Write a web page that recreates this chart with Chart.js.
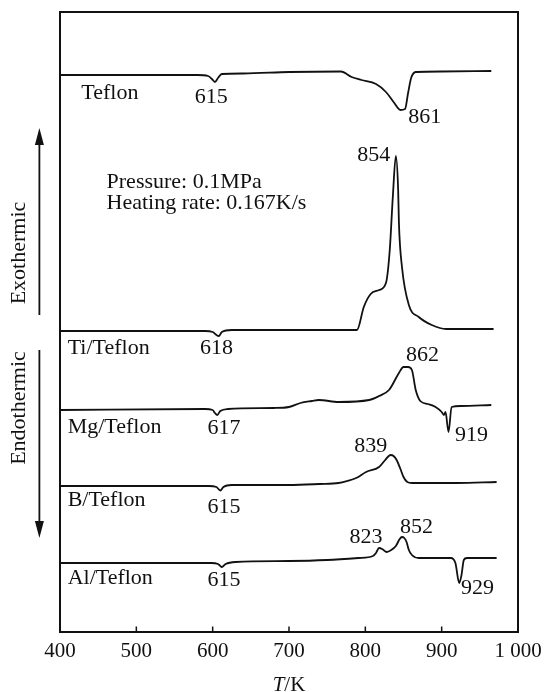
<!DOCTYPE html>
<html>
<head>
<meta charset="utf-8">
<script src="https://cdn.jsdelivr.net/npm/chart.js@4/dist/chart.umd.min.js"></script>
<style>
  html, body { margin: 0; padding: 0; background: #fff; }
</style>
</head>
<body>
<canvas id="myChart" width="544" height="692"></canvas>
<script>
// DTA curves, temperature in K, signal in arbitrary units (curves stacked)
const teflonT = [400, 580, 594, 599, 603, 607, 612, 640, 700, 768, 782, 795, 814, 827, 837, 846, 852, 856, 860, 866, 900, 965];
const teflonY = [557, 557, 556, 553, 550, 554, 558, 558.5, 560, 560.5, 555, 552, 548, 540, 530, 522, 523, 539, 554, 560, 560.5, 561];

const tiT = [400, 590, 600, 605, 608, 612, 625, 700, 789, 798, 807, 818, 827, 832, 836, 840, 843, 844, 848, 857, 870, 887, 906, 968];
const tiY = [301, 301, 300, 297, 296, 300, 302, 302, 302, 325, 338, 342, 349, 382, 435, 476, 442, 409, 365, 327, 315, 307, 303, 303];

const mgT = [400, 590, 600, 603, 606, 610, 620, 680, 700, 715, 730, 739, 765, 805, 818, 831, 844, 850, 856, 861, 866, 872, 882, 892, 900, 903, 905, 909, 913, 925, 965];
const mgY = [222, 223, 222, 219, 217, 221, 223, 224, 225, 229, 231, 232, 230, 232, 236, 242, 259, 265, 265, 262, 242, 231, 228, 225, 220, 217, 220, 200, 225, 226, 227];

const bT = [400, 595, 605, 610, 614, 625, 700, 740, 765, 776, 788, 801, 818, 826, 833, 837, 841, 846, 850, 855, 861, 920, 972];
const bY = [146, 146, 145, 141.5, 145, 147, 147, 148, 149, 151, 154, 160, 165, 172, 177, 176, 172, 163, 155, 150, 149, 149, 150];

const alT = [400, 598, 607, 612, 617, 630, 700, 750, 791, 810, 814, 818, 822, 828, 834, 840, 845, 848, 851, 854, 857, 861, 870, 912, 918, 923, 926, 929, 933, 972];
const alY = [69, 69, 68, 65, 68, 70, 71, 72, 74, 76, 79, 84, 83, 80, 82, 86, 93, 95, 94, 90, 82, 77, 74, 74, 69, 49, 57, 72, 74, 74];

const xTicks = [400, 500, 600, 700, 800, 900, 1000];

// curve names (left aligned)
const nameText = ['Teflon', 'Ti/Teflon', 'Mg/Teflon', 'B/Teflon', 'Al/Teflon'];
const nameT = [428, 410, 410, 410, 410];
const nameY = [539, 284, 205, 132, 54];

// peak temperatures (centered)
const peakText = ['615', '861', '854', '618', '862', '617', '919', '839', '615', '823', '852', '929', '615'];
const peakT = [598, 878, 811, 605, 875, 615, 939, 807, 615, 801, 867, 947, 615];
const peakY = [535, 515, 477, 284, 277, 204, 197, 186, 125, 95, 105, 44, 52];

// test conditions
const noteText = ['Pressure: 0.1MPa', 'Heating rate: 0.167K/s'];
const noteT = [461, 461];
const noteY = [450, 429];

const serif = '"Liberation Serif", "Times New Roman", serif';

function pts(xs, ys) {
  return xs.map((x, i) => ({ x: x, y: ys[i] }));
}

function curve(label, xs, ys) {
  return {
    label: label,
    data: pts(xs, ys),
    borderColor: '#111',
    borderWidth: 1.8,
    pointRadius: 0,
    cubicInterpolationMode: 'monotone',
    fill: false
  };
}

function arrow(ctx, x, y0, y1) {
  const dir = y1 < y0 ? 1 : -1;
  ctx.beginPath();
  ctx.moveTo(x, y0);
  ctx.lineTo(x, y1 + dir * 14);
  ctx.stroke();
  ctx.beginPath();
  ctx.moveTo(x, y1);
  ctx.lineTo(x - 4.5, y1 + dir * 17);
  ctx.lineTo(x + 4.5, y1 + dir * 17);
  ctx.closePath();
  ctx.fill();
}

const decorations = {
  id: 'decorations',
  afterDraw(chart) {
    const ctx = chart.ctx;
    const a = chart.chartArea;
    const xs = chart.scales.x;
    const ys = chart.scales.y;
    ctx.save();
    ctx.strokeStyle = '#111';
    ctx.fillStyle = '#111';
    ctx.lineWidth = 2;
    ctx.strokeRect(a.left, a.top, a.right - a.left, a.bottom - a.top);

    // inward ticks
    ctx.lineWidth = 1.5;
    xTicks.slice(1, -1).forEach(t => {
      const px = xs.getPixelForValue(t);
      ctx.beginPath();
      ctx.moveTo(px, a.bottom);
      ctx.lineTo(px, a.bottom - 5.5);
      ctx.stroke();
    });

    ctx.font = '22px ' + serif;
    ctx.textBaseline = 'middle';
    ctx.textAlign = 'left';
    nameText.forEach((s, i) => ctx.fillText(s, xs.getPixelForValue(nameT[i]), ys.getPixelForValue(nameY[i])));
    noteText.forEach((s, i) => ctx.fillText(s, xs.getPixelForValue(noteT[i]), ys.getPixelForValue(noteY[i])));
    ctx.textAlign = 'center';
    peakText.forEach((s, i) => ctx.fillText(s, xs.getPixelForValue(peakT[i]), ys.getPixelForValue(peakY[i])));

    // exothermic / endothermic arrows
    ctx.lineWidth = 1.8;
    const ax = xs.getPixelForValue(373);
    arrow(ctx, ax, ys.getPixelForValue(317), ys.getPixelForValue(504));
    arrow(ctx, ax, ys.getPixelForValue(282), ys.getPixelForValue(94));
    const tx = xs.getPixelForValue(347);
    [['Exothermic', 379], ['Endothermic', 224]].forEach(([s, v]) => {
      ctx.save();
      ctx.translate(tx, ys.getPixelForValue(v));
      ctx.rotate(-Math.PI / 2);
      ctx.fillText(s, 0, 0);
      ctx.restore();
    });

    // axis title T/K
    const cx = (a.left + a.right) / 2;
    const cy = 685;
    ctx.font = 'italic 21px ' + serif;
    const w1 = ctx.measureText('T').width;
    ctx.font = '21px ' + serif;
    const w2 = ctx.measureText('/K').width;
    ctx.textAlign = 'left';
    ctx.font = 'italic 21px ' + serif;
    ctx.fillText('T', cx - (w1 + w2) / 2, cy);
    ctx.font = '21px ' + serif;
    ctx.fillText('/K', cx - (w1 + w2) / 2 + w1, cy);
    ctx.restore();
  }
};

const ctx = document.getElementById('myChart').getContext('2d');
new Chart(ctx, {
  type: 'line',
  data: {
    datasets: [
      curve('Teflon', teflonT, teflonY),
      curve('Ti/Teflon', tiT, tiY),
      curve('Mg/Teflon', mgT, mgY),
      curve('B/Teflon', bT, bY),
      curve('Al/Teflon', alT, alY)
    ]
  },
  options: {
    responsive: false,
    animation: false,
    devicePixelRatio: 1,
    layout: { padding: { left: 60, right: 26, top: 12, bottom: 0 } },
    plugins: { legend: { display: false }, tooltip: { enabled: false } },
    scales: {
      x: {
        type: 'linear',
        min: 400,
        max: 1000,
        afterBuildTicks: s => { s.ticks = xTicks.map(v => ({ value: v })); },
        afterFit: s => { s.height = 60; s.paddingLeft = 0; s.paddingRight = 0; },
        grid: { display: false, drawTicks: false },
        border: { display: false },
        ticks: {
          padding: 7,
          color: '#111',
          font: { family: serif, size: 21 },
          maxRotation: 0,
          callback: v => v === 1000 ? '1 000' : String(v)
        }
      },
      y: { display: false, min: 0, max: 620 }
    }
  },
  plugins: [decorations]
});
</script>
</body>
</html>
